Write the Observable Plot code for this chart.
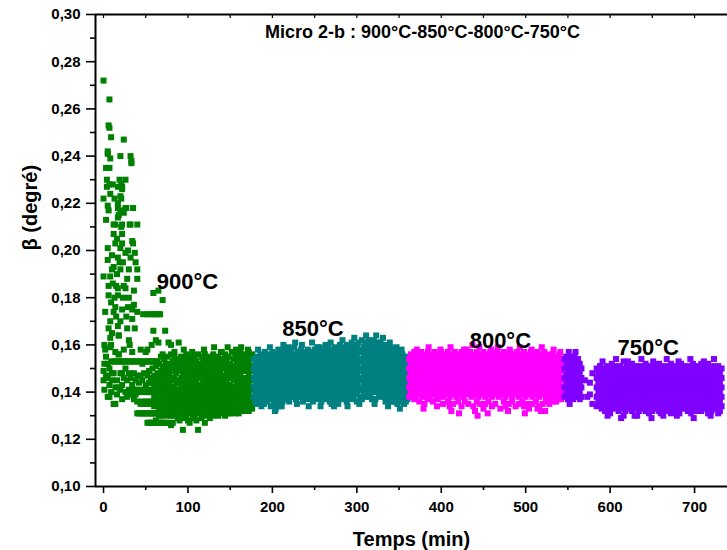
<!DOCTYPE html>
<html>
<head>
<meta charset="utf-8">
<script src="https://cdn.jsdelivr.net/npm/d3@7"></script>
<script src="https://cdn.jsdelivr.net/npm/@observablehq/plot@0.6"></script>
<style>
  html, body { margin: 0; padding: 0; background: #fff; }
  svg { font-family: "Liberation Sans", Arial, sans-serif; }
</style>
</head>
<body>
<div id="chart"></div>
<script>
// ---- Text ----
const title = "Micro 2-b : 900°C-850°C-800°C-750°C";
const xTitle = "Temps (min)";
const yTitle = "β (degré)";

// ---- Ticks ----
const xTicks = [0, 100, 200, 300, 400, 500, 600, 700];
const xMinor = [50, 150, 250, 350, 450, 550, 650];
const topTicks = [0, 50, 100, 150, 200, 250, 300, 350, 400, 450, 500, 550, 600, 650, 700];
const yTicks = [0.10, 0.12, 0.14, 0.16, 0.18, 0.20, 0.22, 0.24, 0.26, 0.28, 0.30];
const yMinor = [0.11, 0.13, 0.15, 0.17, 0.19, 0.21, 0.23, 0.25, 0.27, 0.29];

// ---- Series labels ----
const seriesLabels = ["900°C", "850°C", "800°C", "750°C"];
const labelT = [99.5, 248, 470, 645];
const labelV = [0.1867, 0.1668, 0.1618, 0.1588];
const colors = ["#008000", "#008080", "#FF00FF", "#8000FF"];

// ---- Data: columns [time (min), beta values...] ----
// 900°C, early transient
const g900early = [
[0,.272,.222,.189],[2,.174,.158],[3,.235,.213],[4,.230,.227],
[5,.242,.241,.219,.201,.196],[6,.253,.217,.185,.181,.167],[7,.264,.252,.235,.228],
[8,.239,.224,.189,.170,.163,.159],[9,.248,.178],[10,.198,.192],[11,.228,.186],
[12,.211,.207,.193,.174],[13,.222,.180],[14,.211,.203,.176],[15,.185,.172],[16,.205,.190],
[17,.227,.220,.218,.214,.197,.184,.181,.168],[18,.215,.164,.156],[19,.230,.195],
[20,.240,.223,.217,.201,.192,.170],[21,.228,.222,.210],[22,.227,.226,.211,.207,.203,.175],
[23,.195,.180],[24,.247,.216,.185],[26,.230,.218,.199,.184],[27,.218,.172],[28,.188,.167],
[29,.200,.176],[30,.192,.180],[31,.211,.160],[32,.240,.211,.197],[33,.238,.237],
[34,.204,.175,.171],[35,.218,.203],[36,.183,.177],[37,.199,.167],[38,.195],[40,.211,.192,.188,.174]
];
const g900low = [
[0,.149,.145],[1,.160,.152,.141],[3,.155,.147],[5,.152,.146,.138],[7,.150,.143,.138],
[9,.160,.153,.140],[10,.165,.148,.145],[12,.153,.148,.135],[14,.157,.153,.142,.135],
[16,.153,.145,.139],[18,.164,.156,.153,.142],[20,.153,.148,.141],[22,.153,.148,.143,.137],
[24,.158,.153,.146],[26,.153,.150,.140],[28,.153,.145,.138],[30,.162,.153,.148,.141],
[32,.153,.146,.139],[34,.157,.153,.143],[36,.153,.148,.141,.137],[38,.153,.145,.139]
];
const g900mid = [
[44,.158],[47,.173],[50,.157],[52,.158,.173],[55,.173],[57,.160],[59,.182,.173,.166],
[62,.162,.173],[65,.183,.173,.161],[67,.173],[70,.179,.156],[73,.166],[77,.161],
[80,.160],[84,.157],[89,.161],[95,.158],[105,.157],[119,.158],[131,.159],[139,.157],
[147,.159],[157,.158],[163,.159],[171,.158]
];
const g900core = [
[40,.153,.147,.141,.136,.131],[42,.153,.144,.140,.131],[44,.153,.147,.141,.135,.131],
[46,.152,.145,.140,.136,.131],[48,.153,.148,.141,.135,.131],[50,.153,.143,.140,.136,.131],
[52,.153,.147,.141,.135,.131,.127],[54,.153,.149,.144,.140,.136,.131,.127],
[56,.153,.146,.141,.135,.131,.127],[58,.153,.150,.144,.140,.136,.131,.127],
[60,.153,.147,.142,.138,.134,.131,.127],[62,.153,.151,.145,.140,.136,.131,.128],
[64,.153,.148,.143,.139,.134,.131,.127],[66,.152,.146,.141,.137,.133,.130,.127],
[68,.155,.149,.144,.140,.135,.131,.127],[70,.151,.147,.142,.138,.134,.130,.127],
[72,.154,.149,.145,.141,.136,.132,.127],[74,.152,.147,.143,.139,.135,.131,.127],
[76,.155,.150,.146,.141,.137,.133,.130],[78,.152,.148,.144,.140,.136,.132,.127],
[80,.156,.151,.146,.142,.138,.134,.130,.126],[82,.153,.149,.145,.140,.136,.132,.127],
[84,.155,.150,.146,.142,.137,.133,.130],[86,.152,.148,.144,.139,.135,.131],
[88,.154,.150,.145,.141,.137,.133,.129],[90,.153,.149,.144,.140,.136,.132,.128],
[92,.155,.151,.146,.142,.138,.134,.130],[94,.152,.148,.143,.139,.135,.131,.124],
[96,.154,.150,.145,.141,.137,.133,.129],[98,.156,.151,.147,.142,.138,.134,.130],
[100,.153,.149,.144,.140,.136,.132,.128],[102,.155,.150,.146,.141,.137,.133,.127],
[104,.152,.148,.143,.139,.135,.131],[106,.154,.150,.145,.141,.137,.133,.129],
[108,.155,.151,.147,.142,.138,.134,.130],[110,.153,.149,.144,.140,.136,.132,.128],
[112,.156,.151,.146,.142,.138,.134,.124],[114,.152,.148,.143,.139,.135,.131],
[116,.155,.150,.146,.141,.137,.133,.129],[118,.153,.149,.144,.140,.136,.132],
[120,.156,.151,.147,.142,.138,.134,.130,.127],[122,.154,.149,.145,.141,.136,.132],
[124,.152,.148,.143,.139,.135,.131],[126,.155,.150,.146,.142,.137,.133,.129],
[128,.153,.149,.144,.140,.136,.132],[130,.156,.151,.147,.142,.138,.134,.130],
[132,.154,.150,.145,.141,.137,.133],[134,.152,.148,.143,.139,.135,.131],
[136,.155,.150,.146,.142,.138,.134,.130],[138,.153,.149,.144,.140,.136,.132],
[140,.157,.152,.147,.143,.139,.135,.131],[142,.154,.150,.145,.141,.137,.133],
[144,.156,.151,.147,.142,.138,.134,.130],[146,.153,.149,.144,.140,.136,.132],
[148,.155,.150,.146,.141,.137,.133,.131],[150,.152,.148,.143,.139,.135,.131],
[152,.157,.151,.147,.142,.138,.134,.132],[154,.154,.149,.145,.140,.136,.133],
[156,.156,.151,.146,.142,.138,.134,.131],[158,.153,.148,.144,.140,.136,.132],
[160,.155,.150,.146,.141,.137,.134,.131],[162,.157,.152,.147,.143,.139,.135],
[164,.154,.149,.145,.141,.137,.133],[166,.156,.151,.146,.142,.138,.134,.132],
[168,.153,.149,.144,.140,.136,.133],[170,.155,.150,.146,.141,.137,.134],
[172,.157,.152,.147,.143,.139,.135,.132],[174,.154,.149,.145,.141,.137,.134],
[176,.156,.151,.146,.142,.138,.135,.133]
];
// 850°C
const s850 = [
[178,.154,.150,.146,.142,.138],[180,.152,.148,.144,.140,.136],[182,.155,.151,.147,.143,.139,.135],
[184,.153,.149,.145,.141,.137],[186,.156,.152,.148,.144,.140,.136],[188,.154,.150,.146,.142,.138],
[190,.155,.151,.147,.143,.139,.135],[192,.153,.149,.145,.141,.137],[194,.156,.152,.148,.144,.140,.136],
[196,.154,.150,.146,.142,.138],[198,.155,.151,.147,.143,.139,.134],[200,.157,.153,.149,.145,.141,.137],
[202,.154,.150,.146,.142,.138,.135],[204,.156,.152,.148,.144,.140,.133],[206,.155,.151,.147,.143,.139,.136],
[208,.157,.153,.149,.145,.141,.137,.134],[210,.154,.150,.146,.142,.138],[212,.156,.152,.148,.144,.140,.136],
[214,.158,.153,.149,.145,.141,.137],[216,.155,.151,.147,.143,.139],[218,.157,.153,.149,.145,.141,.137],
[220,.155,.151,.147,.143,.139,.136],[222,.158,.154,.150,.146,.142,.138],[224,.156,.152,.148,.144,.140],
[226,.159,.154,.150,.146,.142,.138],[228,.156,.152,.148,.144,.140,.137],[230,.157,.153,.149,.145,.141,.138],
[232,.155,.151,.147,.143,.139],[234,.158,.154,.150,.146,.142,.138],[236,.156,.152,.148,.144,.140,.136],
[238,.157,.153,.149,.145,.141,.138],[240,.155,.151,.147,.143,.139],[242,.158,.154,.150,.146,.142,.137],
[244,.156,.152,.148,.144,.140],[246,.157,.153,.149,.145,.141,.138],[248,.155,.151,.147,.143,.139,.136],
[250,.158,.154,.150,.146,.142,.138],[252,.156,.152,.148,.144,.140],[254,.157,.153,.149,.145,.141,.137],
[256,.159,.155,.151,.147,.143,.139],[258,.156,.152,.148,.144,.140,.136],[260,.158,.154,.150,.146,.142,.138],
[262,.155,.151,.147,.143,.139],[264,.157,.153,.149,.145,.141,.137],[266,.159,.155,.151,.147,.143,.139],
[268,.156,.152,.148,.144,.140,.136],[270,.158,.154,.150,.146,.142,.138,.135],[272,.157,.153,.149,.145,.141,.137],
[274,.159,.155,.151,.147,.143,.139],[276,.156,.152,.148,.144,.140,.136],[278,.158,.154,.150,.146,.142,.138,.135],
[280,.160,.156,.152,.148,.144,.140],[282,.157,.153,.149,.145,.141,.137],[284,.159,.155,.151,.147,.143,.139],
[286,.158,.154,.150,.146,.142,.138],[288,.160,.156,.152,.148,.144,.140,.136],[290,.157,.153,.149,.145,.141,.138],
[292,.159,.155,.151,.147,.143,.139],[294,.161,.157,.153,.149,.145,.141,.137],[296,.158,.154,.150,.146,.142,.138],
[298,.160,.156,.152,.148,.144,.140],[300,.159,.155,.151,.147,.143,.139,.136],[302,.161,.157,.153,.149,.145,.141],
[304,.158,.154,.150,.146,.142,.138],[306,.162,.157,.153,.149,.145,.141,.137],[308,.159,.155,.151,.147,.143,.139],
[310,.161,.157,.153,.149,.145,.141,.138],[312,.160,.156,.152,.148,.144,.140],[314,.162,.158,.154,.150,.146,.142,.138],
[316,.159,.155,.151,.147,.143,.139],[318,.161,.157,.153,.149,.145,.141,.137],[320,.162,.158,.154,.150,.146,.142],
[322,.160,.156,.152,.148,.144,.140,.137],[324,.161,.157,.153,.149,.145,.141],[326,.159,.155,.151,.147,.143,.139],
[328,.161,.157,.153,.149,.145,.141,.138],[330,.160,.156,.152,.148,.144,.140],[332,.158,.154,.150,.146,.142,.138],
[334,.160,.156,.152,.148,.144,.140,.136],[336,.158,.154,.150,.146,.142,.138],[338,.157,.153,.149,.145,.141,.137],
[340,.159,.155,.151,.147,.143,.139,.136],[342,.156,.152,.148,.144,.140,.136],[344,.158,.154,.150,.146,.142,.138],
[346,.156,.152,.148,.144,.140,.136],[348,.155,.151,.147,.143,.139,.135],[350,.157,.153,.149,.145,.141,.137],
[352,.155,.151,.147,.143,.139,.136],[354,.156,.152,.148,.144,.140,.136],[356,.154,.150,.146,.142,.138,.135],
[358,.155,.151,.147,.143,.139,.136],[360,.153,.149,.145,.141,.137],
// scattered edge points
[183,.158],[191,.157],[197,.159],[207,.158],[213,.160],[219,.159],[227,.161],[235,.160],
[247,.161],[253,.159],[263,.160],[269,.161],[283,.162],[297,.163],[311,.164],[323,.164],
[331,.163],[339,.161],[347,.159],[353,.158],
[187,.134],[203,.132],[211,.134],[229,.135],[243,.134],[257,.134],[273,.134],[289,.134],
[303,.135],[321,.135],[337,.134],[351,.133]
];
// 800°C
const s800 = [
[362,.154,.150,.146,.142,.138],[364,.156,.152,.148,.144,.140],[366,.155,.151,.147,.143,.139],
[368,.157,.153,.149,.145,.141,.137],[370,.154,.150,.146,.142,.138],[372,.156,.152,.148,.144,.140],
[374,.155,.151,.147,.143,.139,.136],[376,.157,.153,.149,.145,.141],[378,.154,.150,.146,.142,.138],
[380,.156,.152,.148,.144,.140,.135],[382,.155,.151,.147,.143,.139],[384,.157,.153,.149,.145,.141,.137],
[386,.154,.150,.146,.142,.138],[388,.156,.152,.148,.144,.140],[390,.155,.151,.147,.143,.139,.136],
[392,.157,.153,.149,.145,.141],[394,.154,.150,.146,.142,.138],[396,.156,.152,.148,.144,.140,.137],
[398,.155,.151,.147,.143,.139],[400,.157,.153,.149,.145,.141],[402,.154,.150,.146,.142,.138,.135],
[404,.156,.152,.148,.144,.140],[406,.155,.151,.147,.143,.139],[408,.157,.153,.149,.145,.141,.136],
[410,.154,.150,.146,.142,.138,.134],[412,.156,.152,.148,.144,.140,.132],[414,.155,.151,.147,.143,.139,.135],
[416,.157,.153,.149,.145,.141],[418,.154,.150,.146,.142,.138],[420,.156,.152,.148,.144,.140,.136],
[422,.155,.151,.147,.143,.139],[424,.157,.153,.149,.145,.141,.134],[426,.154,.150,.146,.142,.138],
[428,.156,.152,.148,.144,.140,.136],[430,.158,.153,.149,.145,.141],[432,.155,.151,.147,.143,.139,.135],
[434,.157,.153,.149,.145,.141],[436,.154,.150,.146,.142,.138],[438,.156,.152,.148,.144,.140,.134],
[440,.155,.151,.147,.143,.139,.132],[442,.157,.153,.149,.145,.141,.136],[444,.154,.150,.146,.142,.138],
[446,.156,.152,.148,.144,.140,.135],[448,.155,.151,.147,.143,.139],[450,.157,.153,.149,.145,.141,.133],
[452,.154,.150,.146,.142,.138,.135],[454,.156,.152,.148,.144,.140],[456,.155,.151,.147,.143,.139,.136],
[458,.157,.153,.149,.145,.141],[460,.154,.150,.146,.142,.138,.134],[462,.156,.152,.148,.144,.140],
[464,.155,.151,.147,.143,.139,.135],[466,.157,.153,.149,.145,.141],[468,.154,.150,.146,.142,.138],
[470,.156,.152,.148,.144,.140,.133],[472,.155,.151,.147,.143,.139],[474,.157,.153,.149,.145,.141,.136],
[476,.154,.150,.146,.142,.138,.134],[478,.156,.152,.148,.144,.140],[480,.155,.151,.147,.143,.139,.135],
[482,.157,.153,.149,.145,.141],[484,.154,.150,.146,.142,.138,.136],[486,.156,.152,.148,.144,.140],
[488,.155,.151,.147,.143,.139,.134],[490,.157,.153,.149,.145,.141],[492,.154,.150,.146,.142,.138,.135],
[494,.156,.152,.148,.144,.140],[496,.155,.151,.147,.143,.139,.136],[498,.157,.153,.149,.145,.141,.134],
[500,.154,.150,.146,.142,.138],[502,.156,.152,.148,.144,.140,.135],[504,.155,.151,.147,.143,.139,.133],
[506,.157,.153,.149,.145,.141],[508,.154,.150,.146,.142,.138,.135],[510,.156,.152,.148,.144,.140],
[512,.155,.151,.147,.143,.139,.136],[514,.157,.153,.149,.145,.141,.133],[516,.154,.150,.146,.142,.138,.134],
[518,.156,.152,.148,.144,.140,.132],[520,.155,.151,.147,.143,.139,.135],[522,.157,.153,.149,.145,.141],
[524,.154,.150,.146,.142,.138,.136],[526,.156,.152,.148,.144,.140],[528,.155,.151,.147,.143,.139,.135],
[530,.153,.149,.145,.141,.137],[532,.156,.152,.148,.144,.140,.136],[534,.154,.150,.146,.142,.138],
[536,.155,.151,.147,.143,.139,.136],[538,.153,.149,.145,.141,.137],[540,.156,.152,.148,.144,.140],
[542,.154,.150,.146,.142,.138,.137],[544,.153,.149,.145,.141,.139],
// scattered edge points
[371,.158],[385,.159],[399,.158],[411,.159],[427,.158],[437,.160],[445,.159],[459,.158],
[467,.159],[481,.158],[493,.159],[507,.158],[519,.159],[533,.158],[541,.157],
[379,.133],[395,.134],[421,.131],[443,.130],[455,.131],[479,.132],[499,.131],[523,.132]
];
// 750°C
const s750 = [
[546,.154,.150,.146,.142,.138],[548,.155,.151,.147,.143,.139],[550,.153,.149,.145,.141,.137],
[552,.155,.151,.147,.143,.139,.135],[554,.154,.150,.146,.142,.138],[556,.153,.149,.145,.141,.137],
[558,.155,.151,.147,.143,.139],[560,.153,.149,.145,.141,.138],[562,.154,.150,.146,.142,.138],
[564,.152,.148,.144,.140,.137],[566,.150,.146,.142,.138],
[570,.145],[573,.138],[576,.144,.139],[579,.148,.135],
[584,.150,.146,.142,.138,.134],[586,.148,.144,.140,.136],[588,.151,.147,.143,.139,.135],
[590,.149,.145,.141,.137,.133],[592,.150,.146,.142,.138,.134],[594,.148,.144,.140,.136,.132],
[596,.151,.147,.143,.139,.135],[598,.149,.145,.141,.137,.133],[600,.150,.146,.142,.138,.134,.131],
[602,.152,.148,.144,.140,.136],[604,.149,.145,.141,.137,.133],[606,.151,.147,.143,.139,.135],
[608,.150,.146,.142,.138,.134],[610,.148,.144,.140,.136,.132],[612,.151,.147,.143,.139,.135],
[614,.149,.145,.141,.137,.133],[616,.153,.150,.146,.142,.138,.134,.130],[618,.148,.144,.140,.136,.132],
[620,.151,.147,.143,.139,.135],[622,.149,.145,.141,.137,.133],[624,.150,.146,.142,.138,.134],
[626,.152,.148,.144,.140,.136,.132],[628,.149,.145,.141,.137,.133],[630,.151,.147,.143,.139,.135],
[632,.150,.146,.142,.138,.134,.130],[634,.148,.144,.140,.136,.132],[636,.151,.147,.143,.139,.135],
[638,.149,.145,.141,.137,.133],[640,.150,.146,.142,.138,.134],[642,.152,.148,.144,.140,.136,.132],
[644,.149,.145,.141,.137,.133],[646,.151,.147,.143,.139,.135,.131],[648,.150,.146,.142,.138,.134],
[650,.148,.144,.140,.136,.132],[652,.151,.147,.143,.139,.135],[654,.149,.145,.141,.137,.133],
[656,.150,.146,.142,.138,.134],[658,.152,.148,.144,.140,.136,.132],[660,.149,.145,.141,.137,.133,.131],
[662,.151,.147,.143,.139,.135],[664,.150,.146,.142,.138,.134],[666,.148,.144,.140,.136,.132],
[668,.151,.147,.143,.139,.135],[670,.149,.145,.141,.137,.133],[672,.152,.148,.144,.140,.136,.131],
[674,.150,.146,.142,.138,.134],[676,.148,.144,.140,.136,.132],[678,.151,.147,.143,.139,.135],
[680,.149,.145,.141,.137,.133],[682,.150,.146,.142,.138,.134,.131],[684,.152,.148,.144,.140,.136],
[686,.149,.145,.141,.137,.133],[688,.151,.147,.143,.139,.135],[690,.150,.146,.142,.138,.134],
[692,.148,.144,.140,.136,.132],[694,.151,.147,.143,.139,.135],[696,.149,.145,.141,.137,.133,.131],
[698,.152,.148,.144,.140,.136],[700,.150,.146,.142,.138,.134],[702,.148,.144,.140,.136,.132],
[704,.151,.147,.143,.139,.135],[706,.149,.145,.141,.137,.133],[708,.152,.148,.144,.140,.136,.132],
[710,.150,.146,.142,.138,.134],[712,.151,.147,.143,.139,.135],[714,.149,.145,.141,.137,.133],
[716,.152,.148,.144,.140,.136,.131],[718,.150,.146,.142,.138,.134],[720,.148,.144,.140,.136,.132],
[722,.151,.147,.143,.139,.135],[724,.149,.145,.141,.137,.133],[726,.150,.146,.142,.138,.134],
[728,.151,.147,.143,.139,.135,.131],[730,.148,.144,.140,.136,.132],[732,.150,.146,.142,.138,.134],
// scattered edge points
[551,.157],[559,.157],[591,.153],[607,.154],[621,.153],[637,.154],[651,.153],[667,.154],
[681,.153],[695,.154],[711,.153],[723,.154],
[597,.130],[613,.129],[629,.130],[649,.129],[663,.130],[679,.130],[699,.129],[719,.130]
];

// ---- Build tables ----
const toRows = cols => cols.flatMap(([t, ...vs]) => vs.map(v => ({t, v})));
const series = [
  toRows([...g900early, ...g900low, ...g900mid, ...g900core]),
  toRows(s850),
  toRows(s800),
  toRows(s750)
];
const labels = seriesLabels.map((label, i) => ({label, t: labelT[i], v: labelV[i]}));
const fmt = d => d.toFixed(2).replace(".", ",");
const FONT = "Liberation Sans, Arial, sans-serif";

const chart = Plot.plot({
  width: 727,
  height: 550,
  marginTop: 14,
  marginBottom: 64,
  marginLeft: 95,
  marginRight: 0,
  style: {fontFamily: FONT, color: "#000", background: "#fff"},
  x: {domain: [-9.5, 739]},
  y: {domain: [0.10, 0.30]},
  marks: [
    ...series.map((rows, i) => Plot.dot(rows, {
      x: "t", y: "v", symbol: "square", r: 3.4, fill: colors[i], stroke: "none"
    })),
    Plot.text(labels, {x: "t", y: "v", text: "label", fontSize: 22, fontWeight: "bold", fill: "#000"}),
    // axes
    Plot.axisY({ticks: yTicks, tickSize: 9, tickPadding: 6, tickFormat: fmt, fontSize: 15, fontWeight: "bold", strokeWidth: 1.6, label: null}),
    Plot.axisY({ticks: yMinor, tickSize: 5, tickFormat: () => "", strokeWidth: 1.6, label: null}),
    Plot.axisX({ticks: xTicks, tickSize: 7, tickPadding: 8, tickFormat: d => String(d), fontSize: 15, fontWeight: "bold", strokeWidth: 1.6, label: null}),
    Plot.axisX({ticks: xMinor, tickSize: 4, tickFormat: () => "", strokeWidth: 1.6, label: null}),
    Plot.axisX({anchor: "top", ticks: topTicks, tickSize: 3, dy: 3, tickFormat: () => "", strokeWidth: 1.2, label: null}),
    Plot.ruleX([-9.5], {stroke: "#000", strokeWidth: 2}),
    Plot.ruleY([0.10], {stroke: "#000", strokeWidth: 2}),
    Plot.ruleY([0.30], {stroke: "#000", strokeWidth: 2}),
    // titles
    Plot.text([title], {text: d => d, frameAnchor: "top", dx: 11, dy: 11, fontSize: 18, fontWeight: "bold", fill: "#000"}),
    Plot.text([xTitle], {text: d => d, frameAnchor: "bottom", dy: 59, fontSize: 20, fontWeight: "bold", fill: "#000"}),
    Plot.text([yTitle], {text: d => d, frameAnchor: "left", dx: -65, rotate: -90, fontSize: 20, fontWeight: "bold", fill: "#000"})
  ]
});
document.getElementById("chart").appendChild(chart);
</script>
</body>
</html>
